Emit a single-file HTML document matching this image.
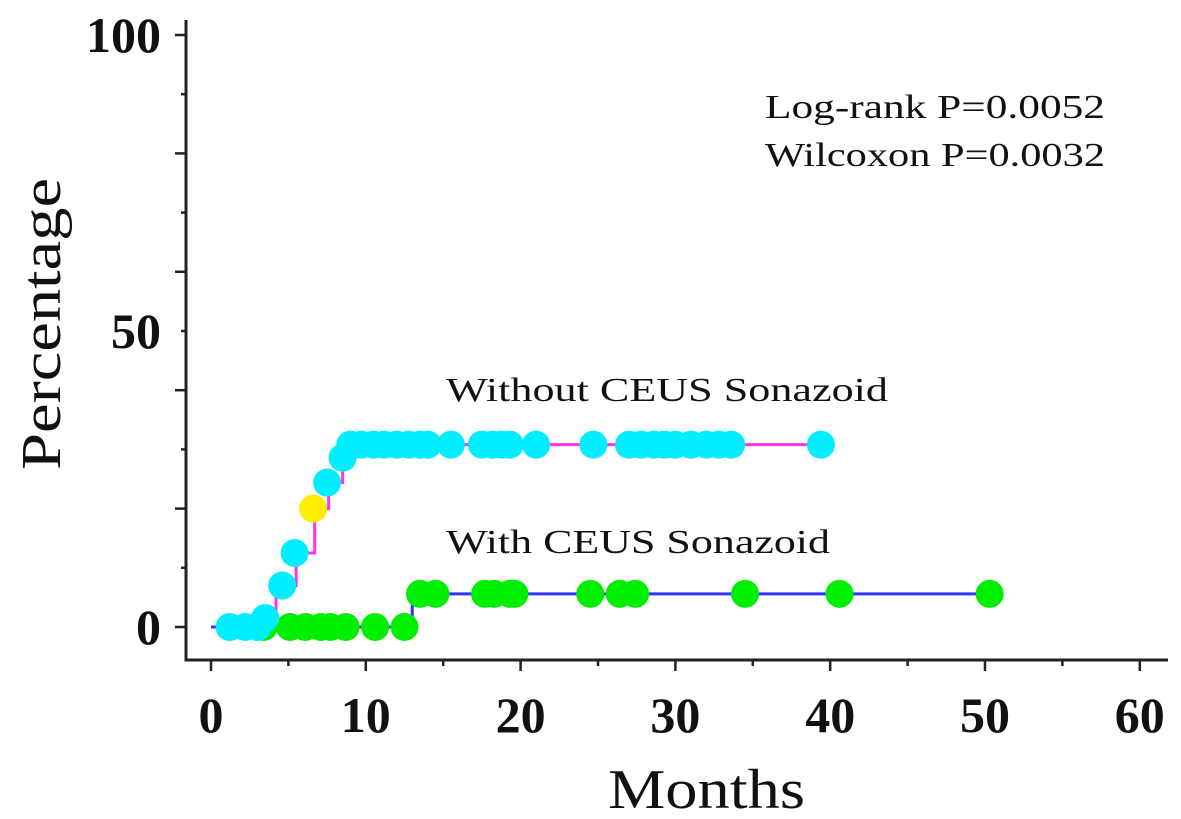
<!DOCTYPE html>
<html><head><meta charset="utf-8"><style>
body{margin:0;background:#fff}
svg{display:block}
text{font-family:"Liberation Serif",serif;fill:#111}
</style></head><body>
<svg width="1181" height="819" id="c">
<g id="axes"></g><g id="lines"></g><g id="dots"></g>
<text x="765" y="118" font-size="34" textLength="340" lengthAdjust="spacingAndGlyphs">Log-rank P=0.0052</text>
<text x="765" y="166" font-size="34" textLength="340" lengthAdjust="spacingAndGlyphs">Wilcoxon P=0.0032</text>
<text x="446" y="401" font-size="34" textLength="442" lengthAdjust="spacingAndGlyphs">Without CEUS Sonazoid</text>
<text x="446" y="553" font-size="34" textLength="384" lengthAdjust="spacingAndGlyphs">With CEUS Sonazoid</text>
<text x="608" y="808" font-size="56" textLength="197" lengthAdjust="spacingAndGlyphs">Months</text>
<text transform="translate(60,470) rotate(-90)" font-size="56" textLength="292" lengthAdjust="spacingAndGlyphs">Percentage</text>
</svg>
<script>
const xTicks=[0,10,20,30,40,50,60];
const yTicks=[0,50,100];
const withoutSteps=[[0,0],[4.2,7],[5.5,12.5],[6.7,20],[7.6,24.4],[8.5,28.6],[9,30.8],[39.5,30.8]];
const withoutCensorT=[1.2,2.2,3.0,3.5,4.6,5.4,7.5,8.5,9.0,9.7,10.5,11.2,12,12.8,13.5,14,15.5,17.5,18.2,18.8,19.3,21,24.7,27,27.8,28.6,29.3,30,31,32,32.8,33.6,39.4];
const withoutCensorV=[0,0,0,1.5,7,12.5,24.4,28.6,30.8,30.8,30.8,30.8,30.8,30.8,30.8,30.8,30.8,30.8,30.8,30.8,30.8,30.8,30.8,30.8,30.8,30.8,30.8,30.8,30.8,30.8,30.8,30.8,30.8];
const withSteps=[[0,0],[13,5.6],[50.3,5.6]];
const withCensorT=[3.4,5.1,6.1,7.1,7.7,8.7,10.6,12.5,13.5,14.5,17.7,18.3,19.3,19.6,24.5,26.4,27.4,34.5,40.6,50.3];
const withCensorV=[0,0,0,0,0,0,0,0,5.6,5.6,5.6,5.6,5.6,5.6,5.6,5.6,5.6,5.6,5.6,5.6];
const yellowT=[6.6], yellowV=[20];
const X=v=>211+v*15.48, Y=v=>627-v*5.92;
const NS="http://www.w3.org/2000/svg";
function mk(p,t,a){const e=document.createElementNS(NS,t);for(const k in a)e.setAttribute(k,a[k]);p.appendChild(e);return e;}
const ax=document.getElementById('axes');
let e=mk(ax,'path',{d:'M186 20V660H1168',stroke:'#222','stroke-width':3,fill:'none'});


for(let v=0;v<=100;v+=10){e=mk(ax,'line',{x1:v%20==0?175:181,x2:186,y1:Y(v),y2:Y(v),stroke:'#222','stroke-width':2.5});

}
for(let v=0;v<=60;v+=5){e=mk(ax,'line',{x1:X(v),x2:X(v),y1:660,y2:v%10==0?671:666,stroke:'#222','stroke-width':2.5});

}
xTicks.forEach(v=>{e=mk(ax,'text',{x:X(v),y:732,'font-size':50,'font-weight':'bold','text-anchor':'middle'});e.textContent=v;

});
yTicks.forEach(v=>{e=mk(ax,'text',{x:161,y:Y(v)+17,'font-size':50,'font-weight':'bold','text-anchor':'end'});e.textContent=v;

});
function step(s){let d='M'+X(s[0][0])+' '+Y(s[0][1]);for(let i=1;i<s.length;i++){d+='H'+X(s[i][0])+'V'+Y(s[i][1]);}return d;}
const L=document.getElementById('lines');
e=mk(L,'path',{d:step(withoutSteps),stroke:'#ff33ee','stroke-width':3,fill:'none'});


e=mk(L,'path',{d:step(withSteps),stroke:'#3333ff','stroke-width':3,fill:'none'});


const D=document.getElementById('dots');
withCensorT.forEach((t,i)=>{e=mk(D,'circle',{cx:X(t),cy:Y(withCensorV[i]),r:14,fill:'#00ee00'});

});
withoutCensorT.forEach((t,i)=>{e=mk(D,'circle',{cx:X(t),cy:Y(withoutCensorV[i]),r:14,fill:'#00eeff'});

});
yellowT.forEach((t,i)=>{e=mk(D,'circle',{cx:X(t),cy:Y(yellowV[i]),r:14,fill:'#ffee00'});

});
</script>
</body></html>
